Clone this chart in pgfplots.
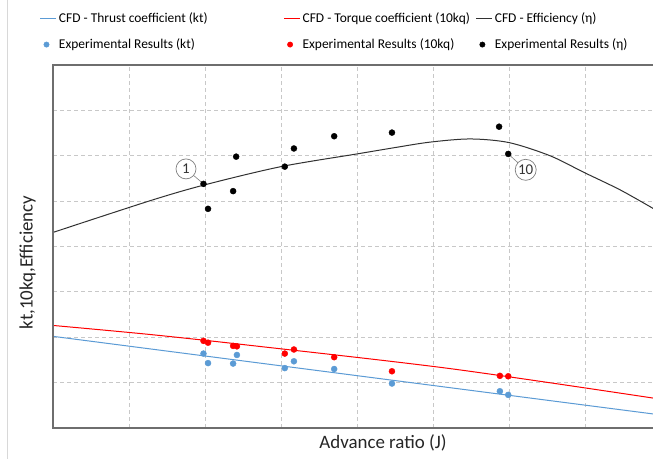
\documentclass[border=0pt]{standalone}
\usepackage{pgfplots}
\pgfplotsset{compat=1.18}
\usepackage{fontspec}
\setmainfont{Carlito}
\definecolor{ktblue}{RGB}{91,155,213}
\definecolor{kqred}{RGB}{255,0,0}
\definecolor{etablack}{RGB}{50,50,50}
\definecolor{gridgray}{RGB}{200,200,200}
\definecolor{framegray}{RGB}{110,110,110}
\begin{document}
\begin{tikzpicture}[x=1bp,y=1bp]
\useasboundingbox (0,0) rectangle (653,459);
\fill[white] (0,0) rectangle (653,459);
\draw[gridgray!70, line width=0.6bp] (7.5,0) -- (7.5,459);
\begin{axis}[
    at={(53bp,31bp)}, anchor=south west,
    scale only axis,
    width=600bp, height=363bp,
    xmin=0, xmax=7.895,
    ymin=0, ymax=8,
    xtick={0,1,...,7}, ytick={0,1,...,8},
    xticklabels={}, yticklabels={},
    major tick length=0pt,
    grid=major,
    grid style={gridgray, dash pattern=on 4bp off 3bp, line width=0.8bp},
    axis line style={draw=none},
    xlabel={Advance ratio (J)},
    ylabel={kt,10kq,Efficiency},
    label style={font=\fontsize{19}{22}\selectfont, text=black!85},
    xlabel style={at={(axis description cs:0.55,-0.042)}, anchor=center},
    ylabel style={at={(axis description cs:-0.0425,0.456)}, anchor=center},
    legend columns=3,
    legend cell align=left,
    legend style={at={(axis description cs:-0.022,1.149)}, anchor=north west,
        draw=none, fill=none, inner sep=0pt,
        font=\fontsize{13.5}{15}\selectfont,
        row sep=10.5bp,
        /tikz/column 2/.style={column sep=74bp},
        /tikz/column 4/.style={column sep=4bp}},
    clip=false,
]
% CFD curves
\addplot[ktblue, line width=1bp,
    legend image code/.code={\draw[draw=ktblue, line width=1bp] (0bp,0bp) -- (16bp,0bp);}]
    coordinates {(0,2.02) (7.895,0.31)};
\addlegendentry{CFD - Thrust coefficient (kt)}
\addplot[kqred, line width=1bp, smooth,
    legend image code/.code={\draw[draw=kqred, line width=1bp] (0bp,0bp) -- (16bp,0bp);}]
    coordinates {(0,2.26) (1.28,2.06) (2.60,1.82) (5.22,1.31) (7.895,0.66)};
\addlegendentry{CFD - Torque coefficient (10kq)}
\addplot[etablack, line width=1bp, smooth,
    legend image code/.code={\draw[draw=etablack, line width=1bp] (0bp,0bp) -- (16bp,0bp);}]
    coordinates {
    (0,4.31) (1.28,5.01) (2.0,5.36) (3.0,5.76) (4.0,6.04) (4.5,6.18)
    (4.96,6.30) (5.49,6.37) (6.0,6.29) (6.54,6.0) (6.99,5.63) (7.46,5.25) (7.895,4.84)};
\addlegendentry{CFD - Efficiency (\char"03B7)}
% experimental points
\addplot[only marks, mark=*, mark size=3bp, color=ktblue,
    legend image code/.code={\fill[ktblue] (6bp,0bp) circle (2.7bp);}] coordinates {
    (1.98,1.64) (2.04,1.43) (2.37,1.42) (2.42,1.61) (3.05,1.32)
    (3.17,1.47) (3.70,1.30) (4.46,0.98) (5.88,0.81) (5.99,0.73)};
\addlegendentry{Experimental Results (kt)}
\addplot[only marks, mark=*, mark size=3bp, color=kqred,
    legend image code/.code={\fill[kqred] (6bp,0bp) circle (2.7bp);}] coordinates {
    (1.98,1.92) (2.04,1.88) (2.37,1.81) (2.42,1.80) (3.05,1.64)
    (3.17,1.73) (3.70,1.56) (4.46,1.25) (5.88,1.15) (5.99,1.14)};
\addlegendentry{Experimental Results (10kq)}
\addplot[only marks, mark=*, mark size=3bp, color=black,
    legend image code/.code={\fill[black] (6bp,0bp) circle (2.7bp);}] coordinates {
    (1.98,5.38) (2.04,4.83) (2.41,5.98) (2.37,5.22) (3.05,5.76)
    (3.17,6.16) (3.70,6.43) (4.46,6.51) (5.87,6.64) (5.99,6.04)};
\addlegendentry{Experimental Results (\char"03B7)}
% annotations
\draw[gray, line width=0.6bp] (axis cs:1.75,5.71) -- (axis cs:1.98,5.38);
\node[circle, draw=gray, fill=white, line width=0.7bp, inner sep=0pt, minimum size=20bp,
      font=\fontsize{15}{15}\selectfont, text=black!80] at (axis cs:1.75,5.71) {1};
\draw[gray, line width=0.6bp] (axis cs:6.22,5.69) -- (axis cs:5.99,6.04);
\node[circle, draw=gray, fill=white, line width=0.7bp, inner sep=0pt, minimum size=21bp,
      font=\fontsize{15}{15}\selectfont, text=black!80] at (axis cs:6.22,5.69) {10};
% frame: left, bottom, top (right side is cut off)
\draw[framegray, line width=1.2bp] (rel axis cs:1,1) -- (rel axis cs:0,1) -- (rel axis cs:0,0) -- (rel axis cs:1,0);
\end{axis}
\end{tikzpicture}
\end{document}
